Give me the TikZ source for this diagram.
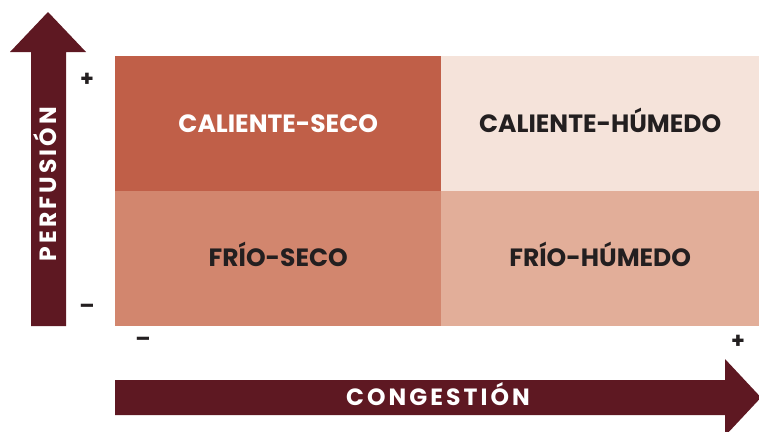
\documentclass[tikz,border=0pt]{standalone}
\usepackage{fontspec}
\setmainfont{Poppins}
\newfontfamily\spacedfont[LetterSpace=13]{Poppins}
\definecolor{hotdry}{HTML}{C05F48}
\definecolor{hotwet}{HTML}{F5E3DA}
\definecolor{colddry}{HTML}{D2866E}
\definecolor{coldwet}{HTML}{E2AE99}
\definecolor{axiscol}{HTML}{5E1822}
\definecolor{ink}{HTML}{231F20}
\begin{document}
\begin{tikzpicture}[x=1pt,y=-1pt,
  cell/.style={anchor=north west,inner sep=0pt,minimum height=135pt,text height=17.5pt,text depth=0pt,font=\fontsize{25}{28}\selectfont\bfseries,text=ink},
  axislabel/.style={text=white,text height=16.5pt,text depth=0pt,font=\fontsize{23.5}{26}\selectfont\spacedfont\bfseries,inner sep=0pt},
  sign/.style={text=ink,font=\fontsize{22}{24}\selectfont\bfseries,inner sep=0pt}]
\useasboundingbox (0,0) rectangle (759,431);
\clip (0,0) rectangle (759,431);
% quadrants
\node[cell,fill=hotdry,minimum width=326pt,minimum height=134.5pt,text=white] (cs) at (115,56) {CALIENTE-SECO};
\node[cell,fill=hotwet,minimum width=318pt,minimum height=134.5pt] (ch) at (441,56) {CALIENTE-HÚMEDO};
\node[cell,fill=colddry,minimum width=326pt] (fs) at (115,190.5) {FRÍO-SECO};
\node[cell,fill=coldwet,minimum width=318pt] (fh) at (441,190.5) {FRÍO-HÚMEDO};
% vertical arrow
\fill[axiscol] (31,326) -- (31,52) -- (10,52) -- (48,12) -- (86,52) -- (66,52) -- (66,326) -- cycle;
\node[axislabel,rotate=90] (perf) at (48,184) {PERFUSIÓN};
% horizontal arrow
\fill[axiscol] (115,380) -- (725,380) -- (725,359) -- (761,397.5) -- (725,436) -- (725,415) -- (115,415) -- cycle;
\node[axislabel] (cong) at (438,397.5) {CONGESTIÓN};
% signs
\node[sign] (pplus) at (87,80) {+};
\node[sign] (pminus) at (87,309) {–};
\node[sign] (cminus) at (143,342) {–};
\node[sign] (cplus) at (738,342) {+};
\end{tikzpicture}
\end{document}
